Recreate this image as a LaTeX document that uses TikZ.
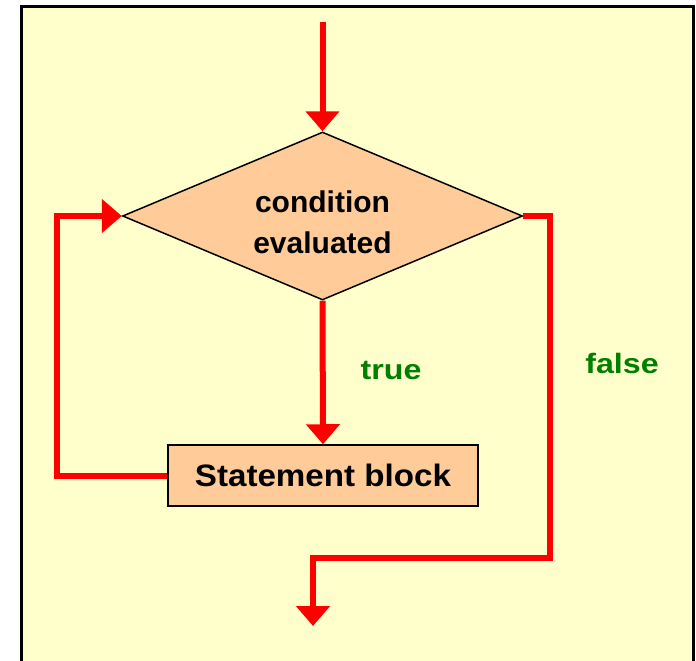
\documentclass[tikz,border=0pt]{standalone}
\usepackage{fontspec}
\setmainfont{Liberation Sans}
\newfontfamily\boxfont{Liberation Sans}[FakeStretch=1.07]
\newfontfamily\lblfont{Liberation Sans}[FakeStretch=1.15]
\usetikzlibrary{shapes.geometric,arrows.meta}
\definecolor{bgyellow}{HTML}{FFFFCC}
\definecolor{peach}{HTML}{FFCC99}
\definecolor{lblgreen}{HTML}{008000}
\begin{document}
\begin{tikzpicture}[x=1pt,y=-1pt,
  flowline/.style={draw=red,line width=6pt,line join=miter,-{Triangle[length=20pt,width=33pt]}},
  decision/.style={shape=diamond,draw=black,line width=1.5pt,fill=peach,inner sep=0pt,aspect=2.38,
    minimum width=400pt,minimum height=168pt},
  decisiontext/.style={align=center,inner sep=0pt,font=\fontsize{30}{41}\selectfont\bfseries},
  stmtbox/.style={shape=rectangle,draw=black,line width=1.5pt,fill=peach,inner sep=0pt,
    minimum width=310pt,minimum height=61pt,font=\boxfont\fontsize{31}{36}\selectfont\bfseries},
  lbl/.style={text=lblgreen,inner sep=0pt,font=\lblfont\fontsize{28}{32}\selectfont\bfseries}]
\useasboundingbox (0,0) rectangle (696,661);
\begin{scope}
\clip (0,0) rectangle (696,661);
\draw[line width=3pt,fill=bgyellow] (21.5,6.5) rectangle (693,680);
\end{scope}
\node[decision] (cond) at (322.5,216) {};
\node[decisiontext] (condtext) at (322.5,222) {condition\\evaluated};
\node[stmtbox] (blk) at (323,475.5) {Statement block};
\coordinate (start) at (322.5,22);
\coordinate (f1) at (550,558);
\coordinate (fend) at (313,626);
\draw[flowline] (start) -- (cond.north);
\draw[flowline] (cond.south) -- (blk.north);
\draw[flowline] (blk.west) -- ++(-110,0) |- (cond.west);
\draw[flowline] (cond.east) -| (f1) -| (fend);
\node[lbl] (tlbl) at (391,371) {true};
\node[lbl] (flbl) at (622,363) {false};
\end{tikzpicture}
\end{document}
